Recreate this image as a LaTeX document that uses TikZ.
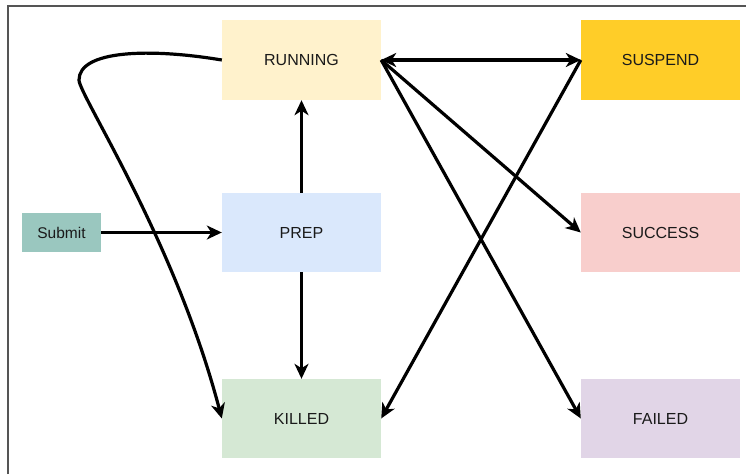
\documentclass[tikz,border=0pt]{standalone}
\usepackage{fontspec}
\setmainfont{Liberation Sans}
\usetikzlibrary{arrows.meta}
\definecolor{cRun}{HTML}{FFF2CC}
\definecolor{cSus}{HTML}{FFCD28}
\definecolor{cPrep}{HTML}{DAE8FC}
\definecolor{cSuc}{HTML}{F8CECC}
\definecolor{cKil}{HTML}{D5E8D4}
\definecolor{cFail}{HTML}{E1D5E7}
\definecolor{cSub}{HTML}{9AC7BF}
\definecolor{cTxt}{HTML}{1A1A1A}
\definecolor{cFrame}{HTML}{555555}
\begin{document}
\begin{tikzpicture}[x=1pt,y=-1pt,
  box/.style={minimum width=159pt,minimum height=80pt,inner sep=0pt,draw=none,
    text=cTxt,font=\fontsize{16}{19}\selectfont},
  conn/.style={line width=3.2pt,-{Stealth[length=15pt,width=14pt,inset=4.5pt]}},
  bconn/.style={line width=3.2pt,{Stealth[length=15pt,width=14pt,inset=4.5pt]}-{Stealth[length=15pt,width=14pt,inset=4.5pt]}}]
\useasboundingbox (0,0) rectangle (746,474);
\draw[line width=1.2pt,cFrame] (8,474) -- (8,6) -- (746,6);

\node[box,fill=cRun]  (running) at (301.5,60)    {RUNNING};
\node[box,fill=cSus]  (suspend) at (660.5,60)    {SUSPEND};
\node[box,fill=cPrep,minimum height=79pt] (prep) at (301.5,232.5) {PREP};
\node[box,fill=cSuc,minimum height=79pt]  (success) at (660.5,232.5) {SUCCESS};
\node[box,fill=cKil,minimum height=79pt]  (killed) at (301.5,418.5) {KILLED};
\node[box,fill=cFail,minimum height=79pt] (failed) at (660.5,418.5) {FAILED};
\node[box,fill=cSub,minimum width=79pt,minimum height=39pt,font=\fontsize{15.5}{18}\selectfont] (submit) at (61.5,232.5) {Submit};

\draw[conn] (submit.east) -- (prep.west);
\draw[conn] (prep.north) -- (running.south);
\draw[conn] (prep.south) -- (killed.north);
\draw[bconn] (running.east) -- (suspend.west);
\draw[conn] (running.east) -- (success.west);
\draw[conn] (running.east) -- (failed.west);
\draw[conn] (suspend.west) -- (killed.east);
\draw[conn] (running.west) .. controls (150,48) and (79,50) .. (79,80)
  .. controls (79,95) and (175,240) .. (killed.west);
\end{tikzpicture}
\end{document}
